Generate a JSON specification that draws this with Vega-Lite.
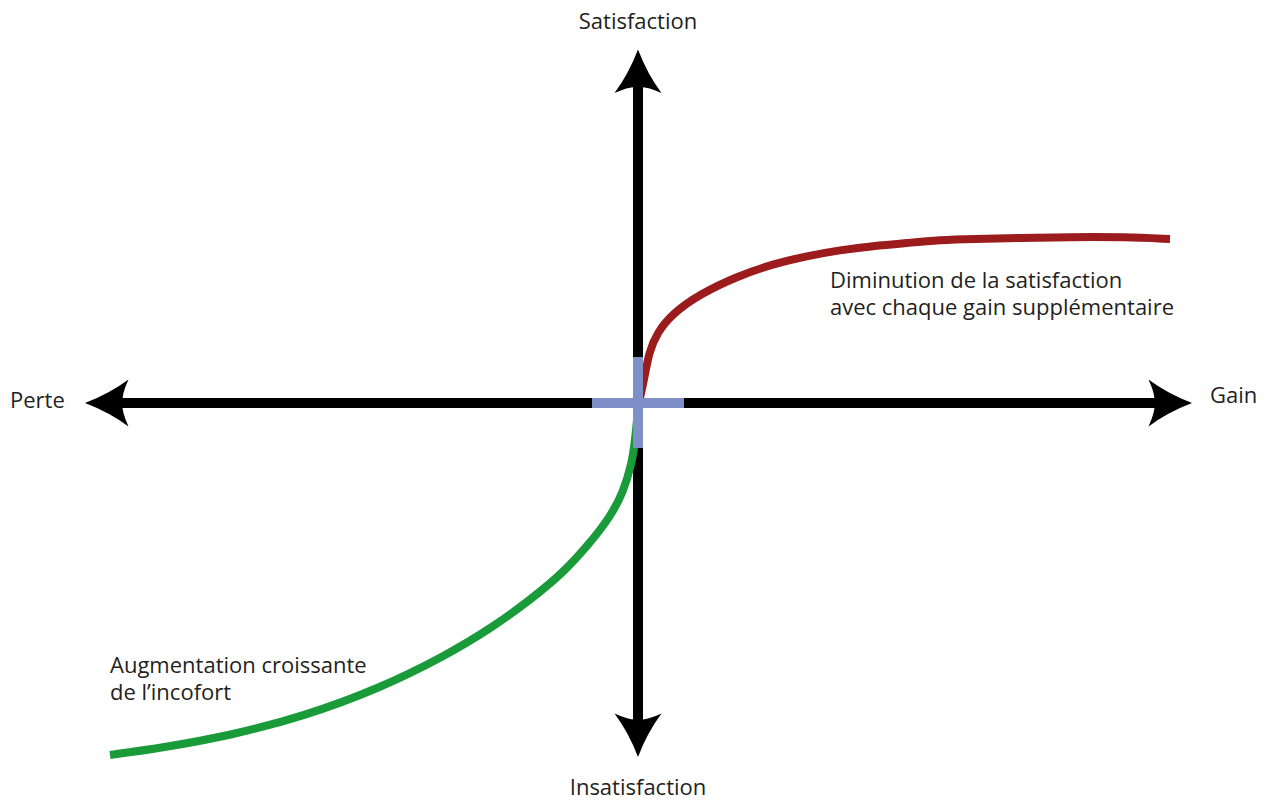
{
  "$schema": "https://vega.github.io/schema/vega-lite/v6.json",
  "width": 1276,
  "height": 802,
  "autosize": {"type": "fit", "contains": "padding"},
  "padding": 0,
  "background": "white",
  "config": {"view": {"stroke": null}},
  "datasets": {
    "axes": [
      {"part": "gain-perte", "x": -5.2, "x2": 5.2, "y": 0, "y2": 0},
      {"part": "satisfaction", "x": 0, "x2": 0, "y": -3.2, "y2": 3.2}
    ],
    "cross": [
      {"part": "h", "x": -0.46, "x2": 0.46, "y": 0, "y2": 0},
      {"part": "v", "x": 0, "x2": 0, "y": -0.45, "y2": 0.46}
    ],
    "arrows": [
      {"dir": "up", "x": 0, "y": 3.3, "angle": 0},
      {"dir": "right", "x": 5.305, "y": 0, "angle": 90},
      {"dir": "down", "x": 0, "y": -3.305, "angle": 180},
      {"dir": "left", "x": -5.295, "y": 0, "angle": 270}
    ],
    "curves": [
      {"curve": "Gain", "x": 0.02, "y": 0.05},
      {"curve": "Gain", "x": 0.06, "y": 0.23},
      {"curve": "Gain", "x": 0.11, "y": 0.51},
      {"curve": "Gain", "x": 0.19, "y": 0.7},
      {"curve": "Gain", "x": 0.34, "y": 0.89},
      {"curve": "Gain", "x": 0.62, "y": 1.09},
      {"curve": "Gain", "x": 1.0, "y": 1.27},
      {"curve": "Gain", "x": 1.35, "y": 1.39},
      {"curve": "Gain", "x": 1.69, "y": 1.47},
      {"curve": "Gain", "x": 2.02, "y": 1.53},
      {"curve": "Gain", "x": 2.35, "y": 1.57},
      {"curve": "Gain", "x": 2.69, "y": 1.6},
      {"curve": "Gain", "x": 3.02, "y": 1.63},
      {"curve": "Gain", "x": 3.35, "y": 1.64},
      {"curve": "Gain", "x": 3.81, "y": 1.65},
      {"curve": "Gain", "x": 4.32, "y": 1.66},
      {"curve": "Gain", "x": 4.87, "y": 1.66},
      {"curve": "Gain", "x": 5.32, "y": 1.64},
      {"curve": "Perte", "x": -5.28, "y": -3.52},
      {"curve": "Perte", "x": -4.77, "y": -3.45},
      {"curve": "Perte", "x": -4.05, "y": -3.32},
      {"curve": "Perte", "x": -3.34, "y": -3.13},
      {"curve": "Perte", "x": -2.62, "y": -2.87},
      {"curve": "Perte", "x": -1.91, "y": -2.52},
      {"curve": "Perte", "x": -1.45, "y": -2.24},
      {"curve": "Perte", "x": -1.08, "y": -1.97},
      {"curve": "Perte", "x": -0.75, "y": -1.7},
      {"curve": "Perte", "x": -0.48, "y": -1.4},
      {"curve": "Perte", "x": -0.28, "y": -1.14},
      {"curve": "Perte", "x": -0.15, "y": -0.9},
      {"curve": "Perte", "x": -0.06, "y": -0.6},
      {"curve": "Perte", "x": -0.03, "y": -0.37},
      {"curve": "Perte", "x": -0.01, "y": -0.17}
    ],
    "labelsCenter": [
      {"text": "Satisfaction", "x": 0, "y": 3.74},
      {"text": "Insatisfaction", "x": 0, "y": -3.92}
    ],
    "labelsLeft": [
      {"text": "Perte", "x": -6.28, "y": -0.05},
      {"text": "Gain", "x": 5.72, "y": 0.0},
      {"text": "Diminution de la satisfaction\navec chaque gain supplémentaire", "x": 1.92, "y": 1.15},
      {"text": "Augmentation croissante\nde l’incofort", "x": -5.28, "y": -2.7}
    ]
  },
  "layer": [
    {
      "data": {"name": "axes"},
      "mark": {"type": "rule", "color": "#000000", "strokeWidth": 10, "strokeCap": "butt"},
      "encoding": {
        "x": {"field": "x", "type": "quantitative", "axis": null, "scale": {"domain": [-6.38, 6.38], "nice": false, "zero": false}},
        "x2": {"field": "x2"},
        "y": {"field": "y", "type": "quantitative", "axis": null, "scale": {"domain": [-3.99, 4.03], "nice": false, "zero": false}},
        "y2": {"field": "y2"}
      }
    },
    {
      "data": {"name": "curves"},
      "mark": {"type": "line", "strokeWidth": 8, "interpolate": "basis", "strokeCap": "butt"},
      "encoding": {
        "x": {"field": "x", "type": "quantitative", "axis": null},
        "y": {"field": "y", "type": "quantitative", "axis": null},
        "color": {"field": "curve", "type": "nominal", "legend": null, "scale": {"domain": ["Gain", "Perte"], "range": ["#9c1b1c", "#199b3a"]}},
        "order": {"field": "x", "type": "quantitative"}
      }
    },
    {
      "data": {"name": "cross"},
      "mark": {"type": "rule", "color": "#7f8fc8", "strokeWidth": 10, "strokeCap": "butt"},
      "encoding": {
        "x": {"field": "x", "type": "quantitative", "axis": null},
        "x2": {"field": "x2"},
        "y": {"field": "y", "type": "quantitative", "axis": null},
        "y2": {"field": "y2"}
      }
    },
    {
      "data": {"name": "arrows"},
      "mark": {
        "type": "point",
        "shape": "M0,-1 Q0.4,0.05 1,0.85 Q0.35,0.55 0,0.6 Q-0.35,0.55 -1,0.85 Q-0.4,0.05 0,-1 Z",
        "filled": true,
        "color": "#000000",
        "opacity": 1,
        "size": 2209,
        "strokeWidth": 0
      },
      "encoding": {
        "x": {"field": "x", "type": "quantitative", "axis": null},
        "y": {"field": "y", "type": "quantitative", "axis": null},
        "angle": {"field": "angle", "type": "quantitative", "scale": null}
      }
    },
    {
      "data": {"name": "labelsCenter"},
      "mark": {"type": "text", "align": "center", "baseline": "alphabetic", "font": "Open Sans", "fontSize": 22, "color": "#231f20"},
      "encoding": {
        "x": {"field": "x", "type": "quantitative", "axis": null},
        "y": {"field": "y", "type": "quantitative", "axis": null},
        "text": {"field": "text", "type": "nominal"}
      }
    },
    {
      "data": {"name": "labelsLeft"},
      "mark": {"type": "text", "align": "left", "baseline": "alphabetic", "font": "Open Sans", "fontSize": 22, "color": "#231f20", "lineBreak": "\n", "lineHeight": 26.5},
      "encoding": {
        "x": {"field": "x", "type": "quantitative", "axis": null},
        "y": {"field": "y", "type": "quantitative", "axis": null},
        "text": {"field": "text", "type": "nominal"}
      }
    }
  ]
}
